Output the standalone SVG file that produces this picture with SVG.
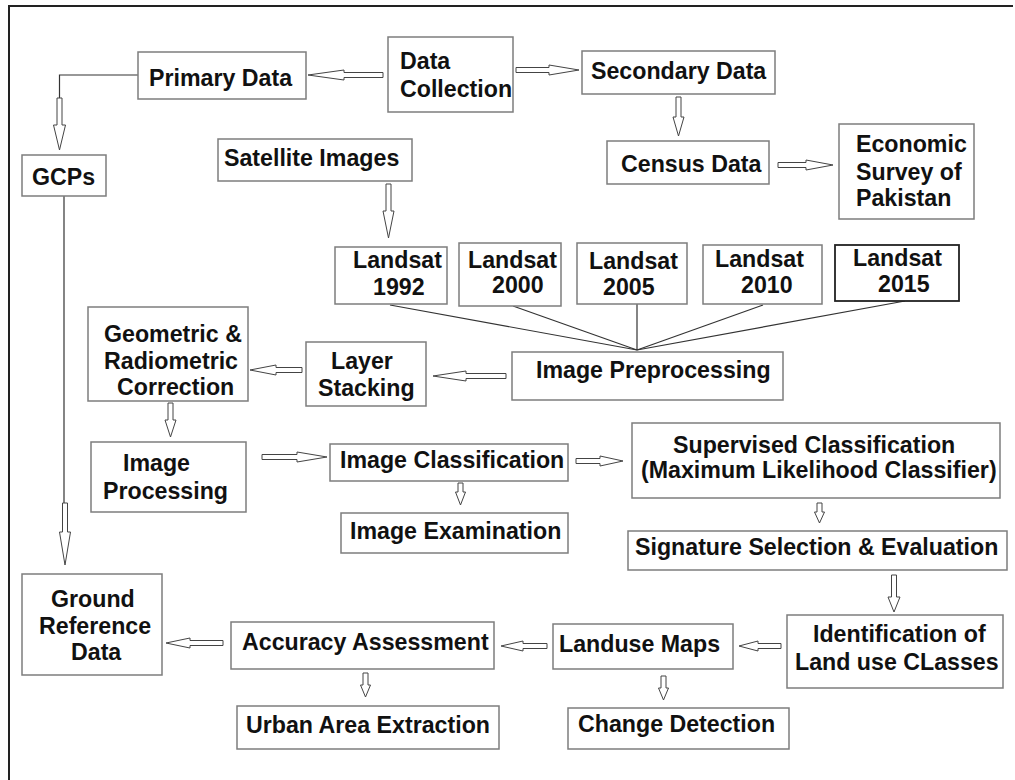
<svg xmlns="http://www.w3.org/2000/svg" width="1015" height="780" viewBox="0 0 1015 780">
  <style>
    .box { fill: #ffffff; stroke: #7d7d7d; stroke-width: 1.5; }
    .box.dark { stroke: #222222; stroke-width: 1.8; }
    .lbl { font-family: "Liberation Sans", Arial, sans-serif; font-weight: bold; font-size: 23.2px; fill: #111111; }
    .arr { fill: #ffffff; stroke: #444444; stroke-width: 1; stroke-linejoin: miter; }
    .wire { fill: none; stroke: #333333; stroke-width: 1.2; }
    .frame { fill: none; stroke: #222222; stroke-width: 2; }
  </style>
  <rect x="0" y="0" width="1015" height="780" fill="#ffffff"/>

  <!-- page frame: top and left rules -->
  <path class="frame" d="M9,780 L9,6 L1013,6"/>

  <!-- connectors -->
  <g id="connectors">
    <!-- plain lines -->
    <polyline class="wire" points="138,75 59.5,75 59.5,98"/>
    <line class="wire" x1="64" y1="196" x2="64" y2="503"/>
    <line class="wire" x1="390" y1="305" x2="637" y2="350"/>
    <line class="wire" x1="513" y1="306" x2="637" y2="350"/>
    <line class="wire" x1="637" y1="304" x2="637" y2="350"/>
    <line class="wire" x1="763" y1="305" x2="637" y2="350"/>
    <line class="wire" x1="905" y1="301" x2="637" y2="350"/>
    <!-- hollow block arrows -->
    <polygon class="arr" points="383,72.5 344,72.5 344,70 308,75 344,80 344,77.5 383,77.5"/>
    <polygon class="arr" points="516,67.5 549,67.5 549,65 579,70 549,75 549,72.5 516,72.5"/>
    <polygon class="arr" points="676,97 676,117 673,117 678.5,136 684,117 681,117 681,97"/>
    <polygon class="arr" points="778,162.5 806,162.5 806,160 833,165 806,170 806,167.5 778,167.5"/>
    <polygon class="arr" points="57,98 57,125 53.5,125 59.5,150 65.5,125 62,125 62,98"/>
    <polygon class="arr" points="386,184 386,211 383,211 388.5,238 394,211 391,211 391,184"/>
    <polygon class="arr" points="62.5,503 62.5,532 59.5,532 65,565 70.5,532 67.5,532 67.5,503"/>
    <polygon class="arr" points="506,373.5 466,373.5 466,371 433,376 466,381 466,378.5 506,378.5"/>
    <polygon class="arr" points="302,367.5 276,367.5 276,365 250,370 276,375 276,372.5 302,372.5"/>
    <polygon class="arr" points="168,403 168,420 165,420 170.5,437 176,420 173,420 173,403"/>
    <polygon class="arr" points="262,454.5 297,454.5 297,452 327,457 297,462 297,459.5 262,459.5"/>
    <polygon class="arr" points="458,483 458,492 455.5,492 460.5,505 465.5,492 463,492 463,483"/>
    <polygon class="arr" points="576,458.5 600,458.5 600,456 623,461 600,466 600,463.5 576,463.5"/>
    <polygon class="arr" points="817,503 817,512 814.5,512 819.5,523 824.5,512 822,512 822,503"/>
    <polygon class="arr" points="891.5,575 891.5,597 888,597 894,612 900,597 896.5,597 896.5,575"/>
    <polygon class="arr" points="781,643.5 758,643.5 758,641 739,646 758,651 758,648.5 781,648.5"/>
    <polygon class="arr" points="547,643.5 523,643.5 523,641 501,646 523,651 523,648.5 547,648.5"/>
    <polygon class="arr" points="661,676 661,688 658.5,688 663.5,700 668.5,688 666,688 666,676"/>
    <polygon class="arr" points="223,640.5 190,640.5 190,638 166,643 190,648 190,645.5 223,645.5"/>
    <polygon class="arr" points="363,673 363,685 360.5,685 365.5,697 370.5,685 368,685 368,673"/>
  </g>

  <g id="primary-data">
    <rect class="box" x="138" y="52" width="168" height="47"/>
    <text class="lbl" x="149" y="86">Primary Data</text>
  </g>
  <g id="data-collection">
    <rect class="box" x="388" y="37" width="125" height="75"/>
    <text class="lbl" x="400" y="69">Data</text>
    <text class="lbl" x="400" y="97">Collection</text>
  </g>
  <g id="secondary-data">
    <rect class="box" x="582" y="51" width="193" height="43"/>
    <text class="lbl" x="591" y="79">Secondary Data</text>
  </g>
  <g id="census-data">
    <rect class="box" x="607" y="141" width="162" height="43"/>
    <text class="lbl" x="621" y="172">Census Data</text>
  </g>
  <g id="economic-survey">
    <rect class="box" x="839" y="124" width="135" height="95"/>
    <text class="lbl" x="856" y="152">Economic</text>
    <text class="lbl" x="856" y="180">Survey of</text>
    <text class="lbl" x="856" y="206">Pakistan</text>
  </g>
  <g id="gcps">
    <rect class="box" x="22" y="155" width="84" height="41"/>
    <text class="lbl" x="32" y="185">GCPs</text>
  </g>
  <g id="satellite-images">
    <rect class="box" x="218" y="139" width="194" height="42"/>
    <text class="lbl" x="224" y="166">Satellite Images</text>
  </g>
  <g id="landsat-1992">
    <rect class="box" x="335" y="247" width="112" height="57"/>
    <text class="lbl" x="353" y="268">Landsat</text>
    <text class="lbl" x="373" y="295">1992</text>
  </g>
  <g id="landsat-2000">
    <rect class="box" x="459" y="243" width="102" height="63"/>
    <text class="lbl" x="468" y="268">Landsat</text>
    <text class="lbl" x="492" y="293">2000</text>
  </g>
  <g id="landsat-2005">
    <rect class="box" x="577" y="243" width="110" height="61"/>
    <text class="lbl" x="589" y="269">Landsat</text>
    <text class="lbl" x="603" y="295">2005</text>
  </g>
  <g id="landsat-2010">
    <rect class="box" x="703" y="245" width="119" height="59"/>
    <text class="lbl" x="715" y="267">Landsat</text>
    <text class="lbl" x="741" y="293">2010</text>
  </g>
  <g id="landsat-2015">
    <rect class="box dark" x="835" y="245" width="124" height="56"/>
    <text class="lbl" x="853" y="266">Landsat</text>
    <text class="lbl" x="878" y="292">2015</text>
  </g>
  <g id="image-preprocessing">
    <rect class="box" x="512" y="352" width="271" height="48"/>
    <text class="lbl" x="536" y="378">Image Preprocessing</text>
  </g>
  <g id="layer-stacking">
    <rect class="box" x="306" y="342" width="120" height="64"/>
    <text class="lbl" x="331" y="369">Layer</text>
    <text class="lbl" x="318" y="396">Stacking</text>
  </g>
  <g id="geometric-correction">
    <rect class="box" x="88" y="307" width="160" height="94"/>
    <text class="lbl" x="104" y="342">Geometric &amp;</text>
    <text class="lbl" x="104" y="369">Radiometric</text>
    <text class="lbl" x="117" y="395">Correction</text>
  </g>
  <g id="image-processing">
    <rect class="box" x="91" y="442" width="155" height="70"/>
    <text class="lbl" x="123" y="471">Image</text>
    <text class="lbl" x="103" y="499">Processing</text>
  </g>
  <g id="image-classification">
    <rect class="box" x="330" y="444" width="238" height="37"/>
    <text class="lbl" x="340" y="468">Image Classification</text>
  </g>
  <g id="image-examination">
    <rect class="box" x="341" y="513" width="227" height="40"/>
    <text class="lbl" x="350" y="539">Image Examination</text>
  </g>
  <g id="supervised-classification">
    <rect class="box" x="632" y="423" width="368" height="75"/>
    <text class="lbl" x="673" y="453">Supervised Classification</text>
    <text class="lbl" x="641" y="478">(Maximum Likelihood Classifier)</text>
  </g>
  <g id="signature-selection">
    <rect class="box" x="628" y="531" width="379" height="39"/>
    <text class="lbl" x="635" y="555">Signature Selection &amp; Evaluation</text>
  </g>
  <g id="landuse-classes">
    <rect class="box" x="787" y="615" width="216" height="73"/>
    <text class="lbl" x="813" y="642">Identification of</text>
    <text class="lbl" x="795" y="670">Land use CLasses</text>
  </g>
  <g id="landuse-maps">
    <rect class="box" x="553" y="624" width="180" height="45"/>
    <text class="lbl" x="559" y="652">Landuse Maps</text>
  </g>
  <g id="change-detection">
    <rect class="box" x="568" y="708" width="221" height="41"/>
    <text class="lbl" x="578" y="732">Change Detection</text>
  </g>
  <g id="accuracy-assessment">
    <rect class="box" x="231" y="622" width="263" height="47"/>
    <text class="lbl" x="242" y="650">Accuracy Assessment</text>
  </g>
  <g id="urban-area-extraction">
    <rect class="box" x="237" y="706" width="262" height="43"/>
    <text class="lbl" x="246" y="733">Urban Area Extraction</text>
  </g>
  <g id="ground-reference">
    <rect class="box" x="22" y="574" width="140" height="101"/>
    <text class="lbl" x="51" y="607">Ground</text>
    <text class="lbl" x="39" y="634">Reference</text>
    <text class="lbl" x="71" y="660">Data</text>
  </g>
</svg>
